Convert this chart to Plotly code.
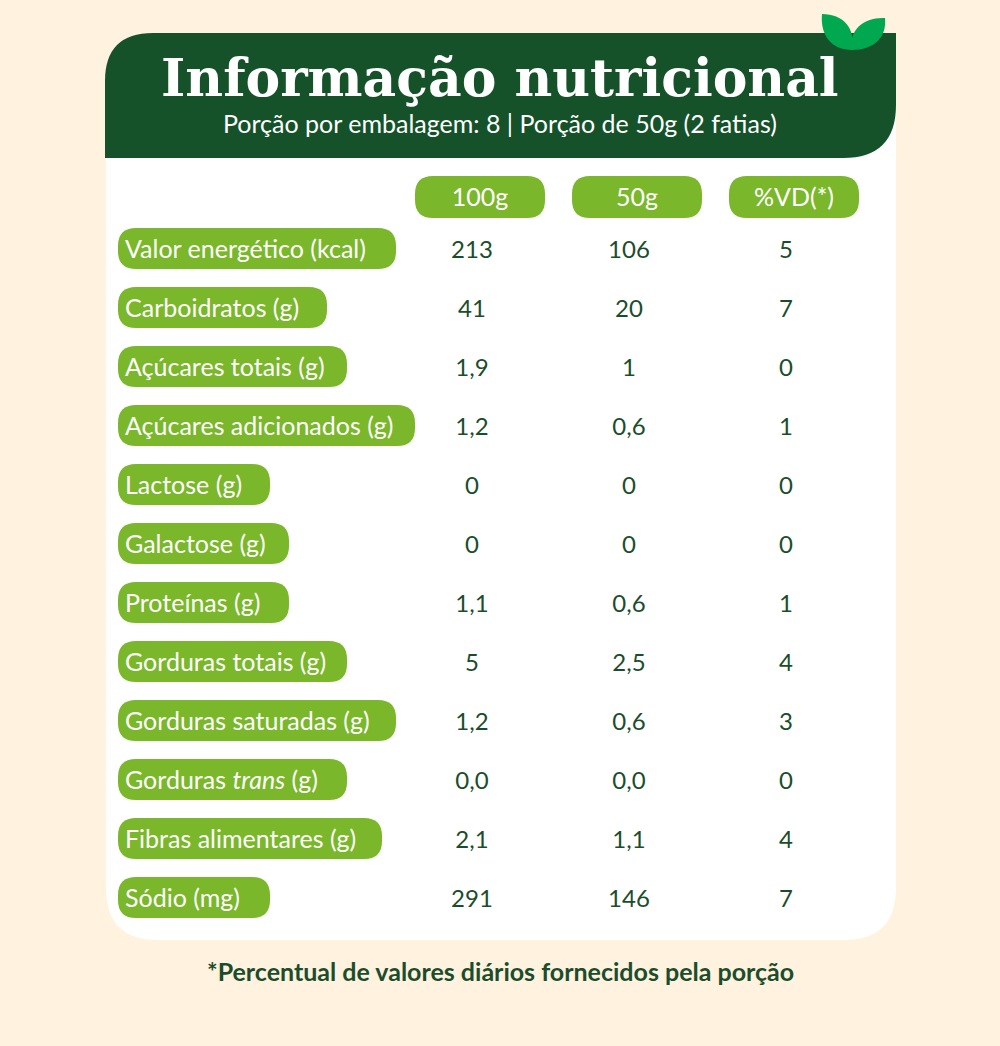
import plotly.graph_objects as go

# ---------------- data ----------------
nutrients = [
    "Valor energético (kcal)", "Carboidratos (g)", "Açúcares totais (g)",
    "Açúcares adicionados (g)", "Lactose (g)", "Galactose (g)", "Proteínas (g)",
    "Gorduras totais (g)", "Gorduras saturadas (g)", "Gorduras <i>trans</i> (g)",
    "Fibras alimentares (g)", "Sódio (mg)",
]
col_headers = ["100g", "50g", "%VD(*)"]
per_100g = ["213", "41", "1,9", "1,2", "0", "0", "1,1", "5", "1,2", "0,0", "2,1", "291"]
per_50g = ["106", "20", "1", "0,6", "0", "0", "0,6", "2,5", "0,6", "0,0", "1,1", "146"]
pct_vd = ["5", "7", "0", "1", "0", "0", "1", "4", "3", "0", "4", "7"]
title = "Informação nutricional"
subtitle = "Porção por embalagem: 8 | Porção de 50g (2 fatias)"
footnote = "*Percentual de valores diários fornecidos pela porção"

# ---------------- layout constants ----------------
W, H = 1000, 1046
CREAM = "#FFF2DE"
DARK = "#155229"
LIGHT = "#7AB72A"
LEAF = "#00A84F"
TXT = "#1B4D2C"

ROW0, STEP = 248.5, 59.0
PILL_H = 41
LABEL_X0 = 118
label_pill_right = [396, 327, 347, 415, 270, 289, 289, 347, 396, 347, 382, 270]
HEAD_Y = 197
head_pill_x0 = [415, 572, 729]
HEAD_PILL_W = 130
value_x = [472, 629, 786]
TEXT_DY = 3  # optical vertical centring of text


def rrect(x0, y0, x1, y1, r):
    return (f"M{x0+r},{y0} L{x1-r},{y0} Q{x1},{y0} {x1},{y0+r} "
            f"L{x1},{y1-r} Q{x1},{y1} {x1-r},{y1} L{x0+r},{y1} "
            f"Q{x0},{y1} {x0},{y1-r} L{x0},{y0+r} Q{x0},{y0} {x0+r},{y0} Z")


shapes = []
# white card
cx0, cy0, cx1, cy1, cr = 106, 90, 896, 940, 52
shapes.append(dict(type="path", layer="below", line=dict(width=0), fillcolor="white",
                   path=(f"M{cx0},{cy0} L{cx1},{cy0} L{cx1},{cy1-cr} Q{cx1},{cy1} {cx1-cr},{cy1} "
                         f"L{cx0+cr},{cy1} Q{cx0},{cy1} {cx0},{cy1-cr} Z")))
# header band
hx0, hy0, hx1, hy1 = 105, 33, 896, 158
shapes.append(dict(type="path", layer="below", line=dict(width=0), fillcolor=DARK,
                   path=(f"M{hx0},{hy0+48} Q{hx0},{hy0} {hx0+48},{hy0} L{hx1},{hy0} "
                         f"L{hx1},{hy1-53} Q{hx1},{hy1} {hx1-53},{hy1} L{hx0},{hy1} Z")))
# leaves
shapes.append(dict(type="path", layer="below", line=dict(width=0), fillcolor=LEAF,
                   path="M852,50 C832,50 820,36 822,14 C843,14 856,28 852,50 Z"))
shapes.append(dict(type="path", layer="below", line=dict(width=0), fillcolor=LEAF,
                   path="M852,50 C873,50 887,38 885,18 C864,17 848,30 852,50 Z"))
# column header pills
for x0 in head_pill_x0:
    shapes.append(dict(type="path", layer="below", line=dict(width=0), fillcolor=LIGHT,
                       path=rrect(x0, HEAD_Y - 21, x0 + HEAD_PILL_W, HEAD_Y + 21, 18)))
# label pills
row_y = [ROW0 + i * STEP for i in range(len(nutrients))]
for y, xr in zip(row_y, label_pill_right):
    shapes.append(dict(type="path", layer="below", line=dict(width=0), fillcolor=LIGHT,
                       path=rrect(LABEL_X0, y - PILL_H / 2, xr, y + PILL_H / 2, 18)))

text_y = [y + TEXT_DY for y in row_y]

fig = go.Figure()
# label texts
fig.add_trace(go.Scatter(x=[LABEL_X0 + 7] * len(nutrients), y=text_y, mode="text",
                         text=nutrients, textposition="middle right",
                         textfont=dict(family="Lato", size=25, color="white"),
                         hoverinfo="skip", showlegend=False))
# column header texts
fig.add_trace(go.Scatter(x=[x0 + HEAD_PILL_W / 2 for x0 in head_pill_x0],
                         y=[HEAD_Y + TEXT_DY] * 3,
                         mode="text", text=col_headers, textposition="middle center",
                         textfont=dict(family="Lato", size=25, color="white"),
                         hoverinfo="skip", showlegend=False))
# values
for xc, vals in zip(value_x, [per_100g, per_50g, pct_vd]):
    fig.add_trace(go.Scatter(x=[xc] * len(vals), y=text_y, mode="text", text=vals,
                             textposition="middle center",
                             textfont=dict(family="Lato", size=24, color=TXT),
                             hoverinfo="skip", showlegend=False))

annotations = [
    dict(x=500, y=77, text=f"<b>{title}</b>", showarrow=False, xanchor="center", yanchor="middle",
         font=dict(family="DejaVu Serif", size=52, color="white")),
    dict(x=500, y=123, text=subtitle, showarrow=False, xanchor="center", yanchor="middle",
         font=dict(family="Lato", size=25, color="white")),
    dict(x=500, y=971, text=f"<b>{footnote}</b>", showarrow=False, xanchor="center", yanchor="middle",
         font=dict(family="Lato", size=25, color=TXT)),
]

fig.update_layout(
    width=W, height=H, margin=dict(l=0, r=0, t=0, b=0),
    paper_bgcolor=CREAM, plot_bgcolor=CREAM,
    shapes=shapes, annotations=annotations,
    xaxis=dict(range=[0, W], visible=False, fixedrange=True),
    yaxis=dict(range=[H, 0], visible=False, fixedrange=True),
    showlegend=False,
)
fig.write_html("out.html", config={"displayModeBar": False},
               post_script="document.body.style.margin='0';document.body.style.padding='0';"
                           "document.body.style.background='#FFF2DE';document.body.style.overflow='hidden';")
